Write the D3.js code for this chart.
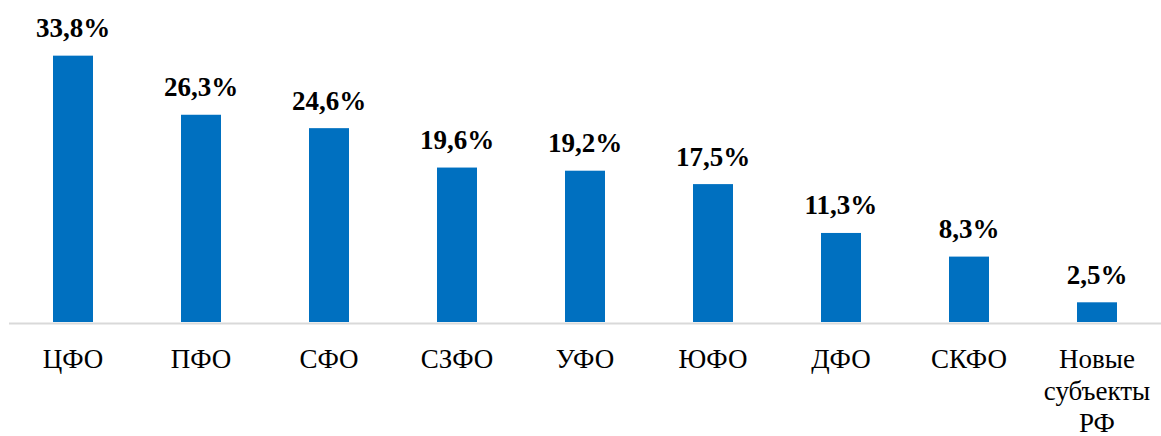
<!DOCTYPE html>
<html><head><meta charset="utf-8">
<script src="https://cdn.jsdelivr.net/npm/d3@7"></script>
<style>body{margin:0;background:#fff}svg{display:block}</style>
</head><body><svg id="c" width="1161" height="436"></svg>
<script>
const categories = ["ЦФО","ПФО","СФО","СЗФО","УФО","ЮФО","ДФО","СКФО","Новые субъекты РФ"];
const values = [33.8,26.3,24.6,19.6,19.2,17.5,11.3,8.3,2.5];
const valueLabels = ["33,8%","26,3%","24,6%","19,6%","19,2%","17,5%","11,3%","8,3%","2,5%"];
const catLines = [["ЦФО"],["ПФО"],["СФО"],["СЗФО"],["УФО"],["ЮФО"],["ДФО"],["СКФО"],["Новые","субъекты","РФ"]];

const FONT = '"Liberation Serif"';
const svg = d3.select("#c");
const baseY = 323;
const x = d3.scaleBand().domain(categories).range([9, 1161]).paddingInner(0.6875).paddingOuter(0.34375);
const y = d3.scaleLinear().domain([0, 40]).range([baseY - 1, baseY - 1 - 40*7.88]);

svg.append("line").attr("x1",9).attr("x2",1161).attr("y1",baseY+0.5).attr("y2",baseY+0.5)
  .attr("stroke","#d9d9d9").attr("stroke-width",2);

svg.selectAll("rect.bar").data(values).join("rect").attr("class","bar")
  .attr("x",(d,i)=>x(categories[i])).attr("width",x.bandwidth())
  .attr("y",d=>y(d)).attr("height",d=>y(0)-y(d)).attr("fill","#0070C0");

values.forEach((d,i)=>{
  svg.append("text")
    .attr("x",x(categories[i])+x.bandwidth()/2).attr("y",y(d)-18.5)
    .attr("text-anchor","middle").attr("font-family","Liberation Serif")
    .style("font-family",FONT).style("font-weight","bold").style("font-size","27px")
    .text(valueLabels[i]);
});

categories.forEach((d,i)=>{
  catLines[i].forEach((ln,j)=>{
    svg.append("text").attr("x",x(d)+x.bandwidth()/2).attr("y",368+j*32)
      .attr("text-anchor","middle").attr("font-family","Liberation Serif")
      .style("font-family",FONT).style("font-size","27px").text(ln);
  });
});
</script></body></html>
